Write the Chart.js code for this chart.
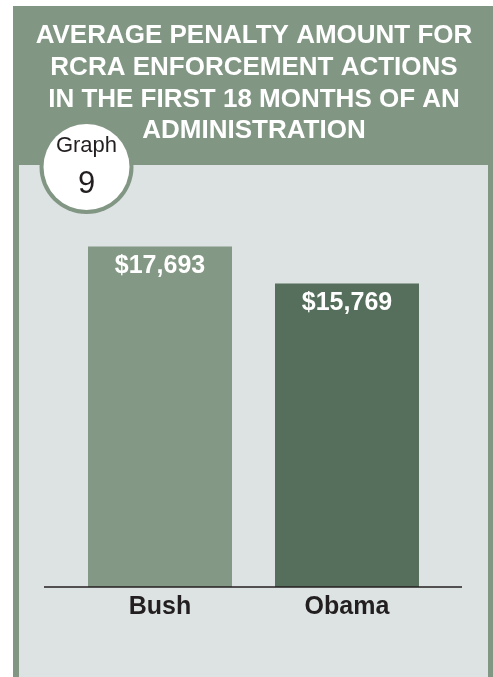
<!DOCTYPE html>
<html>
<head>
<meta charset="utf-8">
<script src="https://cdn.jsdelivr.net/npm/chart.js@4"></script>
<style>
  html, body { margin: 0; padding: 0; background: #fff; }
  #wrap { width: 493px; height: 677px; }
</style>
</head>
<body>
<div id="wrap"><canvas id="penaltyChart" width="493" height="677"></canvas></div>
<script>
// data
const administrations = ["Bush", "Obama"];
const avgPenalty = [17693, 15769];
const barColors = ["#849886", "#566e5c"];
const titleLines = ["AVERAGE PENALTY AMOUNT FOR", "RCRA ENFORCEMENT ACTIONS", "IN THE FIRST 18 MONTHS OF AN", "ADMINISTRATION"];
const badgeLines = ["Graph", "9"];

const GREEN = "#829684";
const PANEL = "#dde3e3";
const FONT = "'Liberation Sans', Arial, sans-serif";

// green frame, light panel, title and the round "Graph 9" badge
const framePlugin = {
  id: "frame",
  beforeDraw(chart) {
    const ctx = chart.ctx;
    ctx.save();
    ctx.fillStyle = GREEN;
    ctx.fillRect(13, 6, 480, 671);
    ctx.fillStyle = PANEL;
    ctx.fillRect(19, 165, 469, 512);

    ctx.fillStyle = "#fff";
    ctx.font = "bold 26px " + FONT;
    ctx.textAlign = "center";
    ctx.textBaseline = "middle";
    titleLines.forEach((t, i) => ctx.fillText(t, 254, 36 + i * 31.7));

    // badge
    ctx.beginPath();
    ctx.arc(86.5, 167, 47, 0, Math.PI * 2);
    ctx.fillStyle = GREEN;
    ctx.fill();
    ctx.beginPath();
    ctx.arc(86.5, 167, 43, 0, Math.PI * 2);
    ctx.fillStyle = "#fff";
    ctx.fill();
    ctx.fillStyle = "#231f20";
    ctx.font = "22px " + FONT;
    ctx.fillText(badgeLines[0], 86.5, 146);
    ctx.font = "31px " + FONT;
    ctx.fillText(badgeLines[1], 86.5, 184);
    ctx.restore();
  },
  afterDatasetsDraw(chart) {
    const ctx = chart.ctx;
    const y0 = chart.scales.y.getPixelForValue(0);
    ctx.save();
    // baseline
    ctx.strokeStyle = "#231f20";
    ctx.lineWidth = 1.5;
    ctx.beginPath();
    ctx.moveTo(44, y0);
    ctx.lineTo(462, y0);
    ctx.stroke();
    // value labels inside bar tops
    ctx.fillStyle = "#fff";
    ctx.font = "bold 25px " + FONT;
    ctx.textAlign = "center";
    ctx.textBaseline = "middle";
    chart.getDatasetMeta(0).data.forEach((bar, i) => {
      ctx.fillText("$" + avgPenalty[i].toLocaleString("en-US"), bar.x, bar.y + 20);
    });
    ctx.restore();
  }
};

new Chart(document.getElementById("penaltyChart"), {
  type: "bar",
  data: {
    labels: administrations,
    datasets: [{
      data: avgPenalty,
      backgroundColor: barColors,
      borderWidth: 0,
      categoryPercentage: 1,
      barPercentage: 0.77
    }]
  },
  options: {
    responsive: false,
    animation: false,
    devicePixelRatio: 1,
    layout: { padding: { left: 66.5, right: 52.5, top: 202, bottom: 50 } },
    plugins: {
      legend: { display: false },
      tooltip: { enabled: false }
    },
    scales: {
      x: {
        grid: { display: false, drawTicks: false },
        border: { display: false },
        ticks: {
          padding: 5,
          color: "#231f20",
          font: { family: FONT, size: 25, weight: "bold" }
        }
      },
      y: {
        display: false,
        min: 0,
        max: 20000
      }
    }
  },
  plugins: [framePlugin]
});
</script>
</body>
</html>
